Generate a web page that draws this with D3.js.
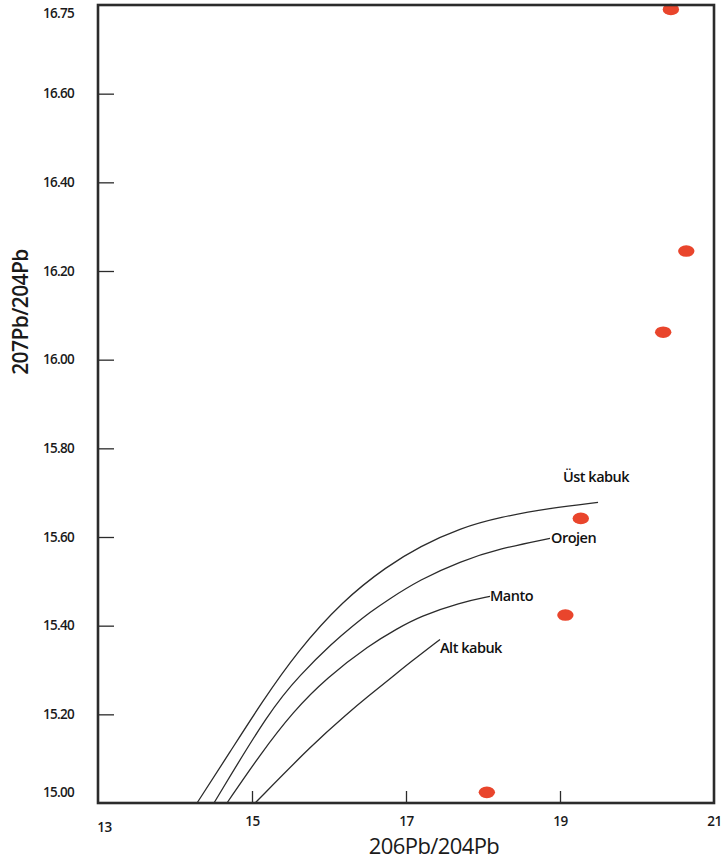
<!DOCTYPE html>
<html><head><meta charset="utf-8">
<script src="https://cdn.jsdelivr.net/npm/d3@7"></script>
<style>body{margin:0;background:#fff}svg{display:block}</style></head>
<body>
<svg id="c" width="722" height="866"></svg>
<script>
// ---- data ----
const xTicks = [13, 15, 17, 19, 21];
const xTickLabels = ["13", "15", "17", "19", "21"];
const yTicks = [15.0, 15.2, 15.4, 15.6, 15.8, 16.0, 16.2, 16.4, 16.6, 16.8];
const yTickLabels = ["15.00", "15.20", "15.40", "15.60", "15.80", "16.00", "16.20", "16.40", "16.60", "16.75"];

const sampleX = [20.44, 20.64, 20.34, 19.27, 19.07, 18.05];
const sampleY = [16.79, 16.245, 16.062, 15.642, 15.424, 15.024];

const curveNames = ["Üst kabuk", "Orojen", "Manto", "Alt kabuk"];
const ustX = [14.286, 14.714, 15.130, 15.584, 16.182, 16.753, 17.182, 17.701, 18.221, 18.870, 19.494];
const ustY = [15.000, 15.115, 15.228, 15.341, 15.457, 15.534, 15.579, 15.620, 15.645, 15.665, 15.678];
const oroX = [14.506, 15.234, 15.623, 16.052, 16.312, 16.532, 16.753, 17.182, 17.701, 18.221, 18.870];
const oroY = [15.000, 15.210, 15.289, 15.362, 15.400, 15.430, 15.457, 15.504, 15.545, 15.574, 15.597];
const manX = [14.675, 15.104, 15.532, 15.974, 16.532, 16.883, 17.182, 17.701, 18.091];
const manY = [15.000, 15.109, 15.206, 15.283, 15.357, 15.393, 15.421, 15.452, 15.466];
const altX = [15.04, 15.792, 16.234, 16.532, 16.792, 17.052, 17.442];
const altY = [15.000, 15.133, 15.201, 15.244, 15.280, 15.317, 15.369];

const xTitle = "206Pb/204Pb";
const yTitle = "207Pb/204Pb";

// ---- layout ----
const W = 722, H = 866;
const m = {left: 98, top: 5, right: 8, bottom: 63};
const svg = d3.select("#c");
const x = d3.scaleLinear().domain([13, 21]).range([m.left, W - m.right]);
const y = d3.scaleLinear().domain([15, 16.8]).range([H - m.bottom, m.top]);
const ink = "#2b2b2b";
const font = "'Open Sans', sans-serif";

// curves
const curves = [
  {name: curveNames[0], xs: ustX, ys: ustY, ldx: -35, ldy: -25},
  {name: curveNames[1], xs: oroX, ys: oroY, ldx: 1, ldy: 0},
  {name: curveNames[2], xs: manX, ys: manY, ldx: 0, ldy: 0},
  {name: curveNames[3], xs: altX, ys: altY, ldx: 0, ldy: 9}
];
const line = d3.line().x(d => x(d[0])).y(d => y(d[1])).curve(d3.curveBasis);
curves.forEach(c => {
  const pts = c.xs.map((v, i) => [v, c.ys[i]]);
  svg.append("path").attr("d", line(pts)).attr("fill", "none")
    .attr("stroke", ink).attr("stroke-width", 1.3);
  const e = pts[pts.length - 1];
  svg.append("text").attr("x", x(e[0]) + c.ldx).attr("y", y(e[1]) + c.ldy)
    .attr("dy", "0.35em").attr("font-family", font).attr("font-size", 14.5)
    .attr("font-weight", 600).attr("letter-spacing", -0.5).attr("fill", "#111")
    .text(c.name);
});

// points
svg.selectAll("ellipse.pt").data(sampleX.map((v, i) => [v, sampleY[i]])).enter()
  .append("ellipse").attr("class", "pt")
  .attr("cx", d => x(d[0])).attr("cy", d => y(d[1]))
  .attr("rx", 8.2).attr("ry", 5.8).attr("fill", "#e9452c");

// y axis ticks (inner)
const yAxis = d3.axisLeft(y).tickValues(yTicks)
  .tickFormat((d, i) => yTickLabels[i]).tickSizeInner(-16).tickSizeOuter(0).tickPadding(24);
const gy = svg.append("g").attr("transform", `translate(${m.left},0)`).call(yAxis);
gy.select(".domain").remove();
gy.selectAll(".tick line").attr("stroke", ink).attr("stroke-width", 1.3);
gy.selectAll(".tick text").attr("font-family", font).attr("font-size", 13.5)
  .attr("font-weight", 600).attr("letter-spacing", -0.7).attr("fill", "#1a1a1a");
gy.selectAll(".tick").filter(d => d === 15.0).select("text").attr("dy", "-0.45em");
gy.selectAll(".tick").filter(d => d === 16.8).select("text").attr("dy", "0.9em");
gy.selectAll(".tick").filter(d => d === 15.0 || d === 16.8).select("line").remove();

// x axis ticks (inner)
const xAxis = d3.axisBottom(x).tickValues(xTicks)
  .tickFormat((d, i) => xTickLabels[i]).tickSizeInner(-12).tickSizeOuter(0).tickPadding(13);
const gx = svg.append("g").attr("transform", `translate(0,${H - m.bottom})`).call(xAxis);
gx.select(".domain").remove();
gx.selectAll(".tick line").attr("stroke", ink).attr("stroke-width", 1.3);
gx.selectAll(".tick text").attr("font-family", font).attr("font-size", 13.5)
  .attr("font-weight", 600).attr("letter-spacing", -0.5).attr("fill", "#1a1a1a");
gx.selectAll(".tick").filter(d => d === 13 || d === 21).select("line").remove();
gx.selectAll(".tick").filter(d => d === 13).select("text").attr("dx", 6).attr("dy", "1.2em");

// frame
svg.append("rect").attr("x", m.left).attr("y", m.top)
  .attr("width", W - m.left - m.right).attr("height", H - m.top - m.bottom)
  .attr("fill", "none").attr("stroke", ink).attr("stroke-width", 2.6);

// titles
svg.append("text").attr("x", 434).attr("y", 854).attr("text-anchor", "middle")
  .attr("font-family", font).attr("font-size", 22).attr("letter-spacing", -0.6)
  .attr("fill", "#1a1a1a").text(xTitle);
svg.append("text").attr("transform", "translate(28,312) rotate(-90)")
  .attr("text-anchor", "middle").attr("font-family", font).attr("font-size", 21)
  .attr("font-weight", 600).attr("letter-spacing", -0.6).attr("fill", "#1a1a1a").text(yTitle);
</script>
</body></html>
